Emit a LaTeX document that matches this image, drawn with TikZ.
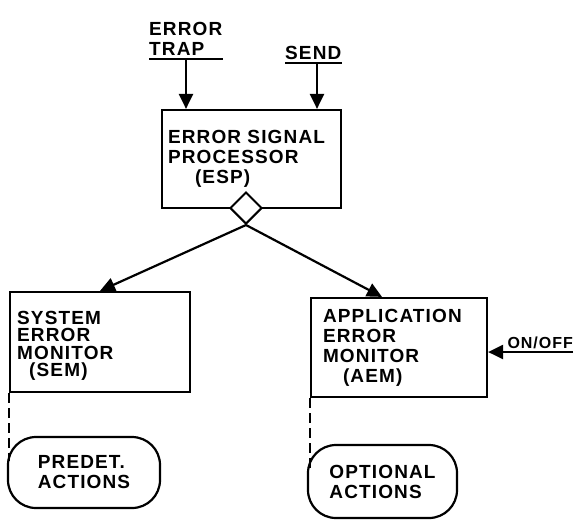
\documentclass[tikz,border=0pt]{standalone}
\usepackage{fontspec}
\setmainfont[LetterSpace=6]{Liberation Sans}
\usetikzlibrary{arrows.meta,shapes.geometric}
\begin{document}
\begin{tikzpicture}[x=1pt,y=-1pt,
  every node/.style={font=\fontsize{19}{20}\selectfont\bfseries},
  ln/.style={line width=2.2pt},
  arr/.style={ln,-{Triangle[length=15pt,width=14pt]}},
  dsh/.style={line width=1.8pt,dash pattern=on 10pt off 5pt},
  box/.style={draw,ln,rectangle,inner ysep=0pt,align=left},
  pill/.style={draw,ln,rectangle,rounded corners=28pt,align=left,inner sep=0pt},
  inlbl/.style={inner xsep=0pt,inner ysep=3pt,align=left,anchor=south west}]
\useasboundingbox (0,0) rectangle (575,523);

% top inputs
\node[inlbl] (trap) at (149,59) {ERROR\\TRAP};
\node[inlbl] (send) at (285,63) {SEND};
\draw[ln] (trap.south west) -- (trap.south east);
\draw[ln] (send.south west) -- (send.south east);

% boxes
\node[box,text width=167pt,inner xsep=6pt,minimum height=98pt] (esp) at (251.5,159)
  {ERROR SIGNAL\\PROCESSOR\\\hspace*{27pt}(ESP)};
\node[box,minimum width=180pt,minimum height=100pt] (sem) at (100,342) {};
\node[anchor=north west,align=left,inner sep=0pt,
  font=\fontsize{19}{17.5}\selectfont\bfseries] (semtxt) at (17,311)
  {SYSTEM\\ERROR\\MONITOR\\\hspace*{12pt}(SEM)};
\node[box,text width=152pt,inner xsep=12pt,minimum height=99pt] (aem) at (399,347.5)
  {APPLICATION\\ERROR\\MONITOR\\\hspace*{20pt}(AEM)};

\node[pill,minimum width=152pt,minimum height=71pt] (pred) at (84,472.5)
  {PREDET.\\ACTIONS};
\node[pill,minimum width=149pt,minimum height=73pt] (opt) at (382.5,481.5)
  {OPTIONAL\\ACTIONS};

\node[diamond,draw,fill=white,line width=2pt,minimum size=32pt,inner sep=0pt] (dm) at (246,208) {};

% input arrows
\coordinate (trapin) at (186,59);
\coordinate (sendin) at (317,63);
\draw[arr] (trapin) -- (trapin |- esp.north);
\draw[arr] (sendin) -- (sendin |- esp.north);

% outputs
\draw[arr] (dm.south) -- (sem.north);
\draw[arr] (dm.south) -- ([xshift=-17pt]aem.north);

% on/off
\node[inner xsep=0pt,inner ysep=3pt,anchor=south east,font=\fontsize{16}{17}\selectfont\bfseries] (onoff) at (573,352) {ON/OFF};
\draw[arr] (onoff.south east) -- (onoff.south east -| aem.east);

% dashed links
\coordinate (pj) at ([yshift=12pt]pred.west);
\coordinate (oj) at ([yshift=14pt]opt.west);
\draw[dsh] (sem.south west) -- (sem.south west |- pj);
\draw[dsh] (aem.south west) -- (aem.south west |- oj);
\end{tikzpicture}
\end{document}
